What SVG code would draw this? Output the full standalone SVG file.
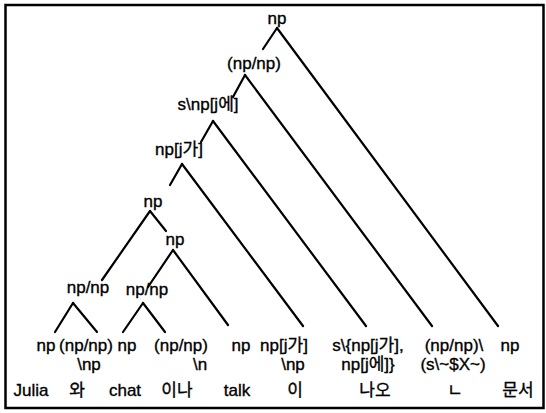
<svg xmlns="http://www.w3.org/2000/svg" width="546" height="413" viewBox="0 0 546 413">
<style>
text{font-family:"Liberation Sans",Arial,"Noto Sans CJK KR",sans-serif;font-size:17px;text-anchor:middle;fill:#000;stroke:#000;stroke-width:0.35}
.ko{font-family:"Noto Sans CJK KR","Liberation Sans",sans-serif;font-size:17px}
#connectors line{stroke:#000;stroke-width:2.2;stroke-linecap:round}
</style>
<rect x="5.5" y="5" width="538" height="403" fill="#fff" stroke="#000" stroke-width="2.5"/>
<g id="connectors">
<line x1="277" y1="28" x2="263" y2="49"/>
<line x1="277" y1="28" x2="498" y2="326"/>
<line x1="245" y1="75" x2="233" y2="97"/>
<line x1="245" y1="75" x2="432" y2="326"/>
<line x1="213" y1="121" x2="201" y2="142"/>
<line x1="213" y1="121" x2="366" y2="326"/>
<line x1="182" y1="164" x2="170" y2="185"/>
<line x1="182" y1="164" x2="303" y2="326"/>
<line x1="150" y1="211" x2="102" y2="280"/>
<line x1="150" y1="211" x2="166" y2="231"/>
<line x1="173" y1="250" x2="148" y2="287"/>
<line x1="173" y1="250" x2="228" y2="325"/>
<line x1="73" y1="303" x2="55" y2="332"/>
<line x1="73" y1="303" x2="97" y2="332"/>
<line x1="143" y1="303" x2="123" y2="332"/>
<line x1="143" y1="303" x2="165" y2="332"/>
</g>
<g id="n-root"><text x="277" y="24">np</text></g>
<g id="n-npnp-top"><text x="254" y="69">(np/np)</text></g>
<g id="n-s-np-je"><text x="208" y="110">s\np[j에]</text></g>
<g id="n-np-jga"><text x="179" y="155">np[j가]</text></g>
<g id="n-np1"><text x="153" y="207">np</text></g>
<g id="n-np2"><text x="175" y="245">np</text></g>
<g id="n-npnp-left"><text x="88" y="293">np/np</text></g>
<g id="n-npnp-right"><text x="147" y="295">np/np</text></g>
<g id="leaf-julia"><text x="46" y="351">np</text><text x="31" y="396">Julia</text></g>
<g id="leaf-wa"><text x="86" y="351">(np/np)</text><text x="89" y="370">\np</text><text class="ko" x="77" y="396">와</text></g>
<g id="leaf-chat"><text x="127" y="351">np</text><text x="125" y="396">chat</text></g>
<g id="leaf-ina"><text x="181" y="351">(np/np)</text><text x="200" y="370">\n</text><text class="ko" x="177" y="396">이나</text></g>
<g id="leaf-talk"><text x="241" y="351">np</text><text x="237" y="396">talk</text></g>
<g id="leaf-i"><text x="284" y="351">np[j가]</text><text x="293" y="370">\np</text><text class="ko" x="295" y="396">이</text></g>
<g id="leaf-nao"><text x="368" y="351">s\{np[j가],</text><text x="368" y="370">np[j에]}</text><text class="ko" x="375" y="396">나오</text></g>
<g id="leaf-n"><text x="454" y="351">(np/np)\</text><text x="453" y="370">(s\~$X~)</text><text class="ko" x="455" y="396">ㄴ</text></g>
<g id="leaf-munseo"><text x="510" y="351">np</text><text class="ko" x="518" y="396">문서</text></g>
</svg>
